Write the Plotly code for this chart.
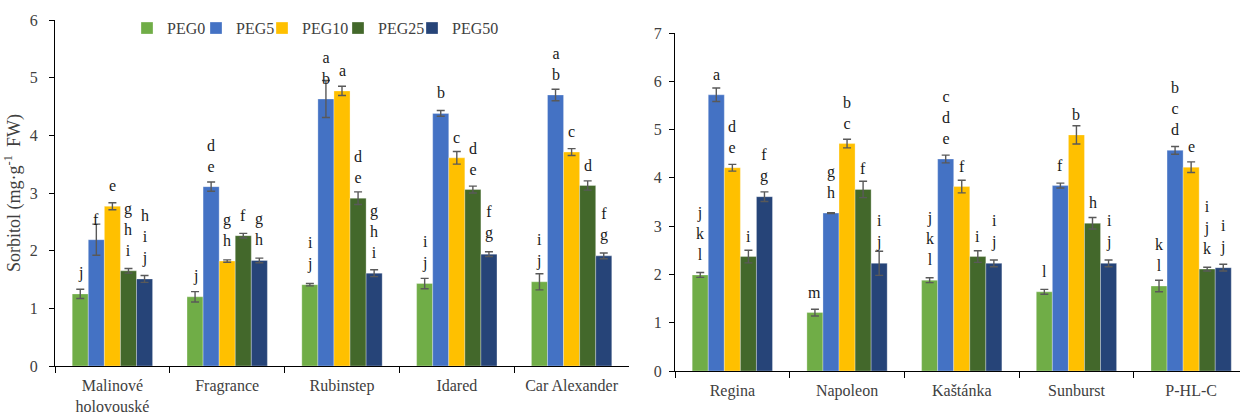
import plotly.graph_objects as go

# Treatments and their bar colours
treatments = ["PEG0", "PEG5", "PEG10", "PEG25", "PEG50"]
colors = ["#70AD47", "#4472C4", "#FFC000", "#43682B", "#264478"]
# left edge of each legend entry, in pixels across the figure
legend_left_px = [127, 196, 262, 338, 412]

# Left panel: apple cultivars
apple_cultivars = ["Malinové<br>holovouské", "Fragrance", "Rubinstep", "Idared", "Car Alexander"]
apple_peg0 = [1.25, 1.20, 1.41, 1.43, 1.46]
apple_peg5 = [2.19, 3.11, 4.63, 4.38, 4.70]
apple_peg10 = [2.77, 1.82, 4.77, 3.61, 3.71]
apple_peg25 = [1.65, 2.26, 2.91, 3.06, 3.13]
apple_peg50 = [1.51, 1.83, 1.61, 1.94, 1.91]
apple_err_peg0 = [0.08, 0.09, 0.02, 0.09, 0.14]
apple_err_peg5 = [0.27, 0.08, 0.32, 0.05, 0.10]
apple_err_peg10 = [0.06, 0.02, 0.08, 0.11, 0.06]
apple_err_peg25 = [0.04, 0.04, 0.11, 0.06, 0.08]
apple_err_peg50 = [0.06, 0.04, 0.06, 0.04, 0.05]
apple_sig_peg0 = ["j", "j", "i<br>j", "i<br>j", "i<br>j"]
apple_sig_peg5 = ["f", "d<br>e", "a<br>b", "b", "a<br>b"]
apple_sig_peg10 = ["e", "g<br>h", "a", "c", "c"]
apple_sig_peg25 = ["g<br>h<br>i", "f", "d<br>e", "d<br>e", "d"]
apple_sig_peg50 = ["h<br>i<br>j", "g<br>h", "g<br>h<br>i", "f<br>g", "f<br>g"]

# Right panel: cherry cultivars
cherry_cultivars = ["Regina", "Napoleon", "Kaštánka", "Sunburst", "P-HL-C"]
cherry_peg0 = [1.99, 1.21, 1.88, 1.64, 1.76]
cherry_peg5 = [5.72, 3.27, 4.39, 3.84, 4.57]
cherry_peg10 = [4.21, 4.71, 3.82, 4.89, 4.22]
cherry_peg25 = [2.37, 3.76, 2.37, 3.06, 2.11]
cherry_peg50 = [3.61, 2.23, 2.23, 2.23, 2.14]
cherry_err_peg0 = [0.05, 0.07, 0.05, 0.05, 0.12]
cherry_err_peg5 = [0.14, 0.01, 0.08, 0.05, 0.08]
cherry_err_peg10 = [0.07, 0.09, 0.13, 0.19, 0.11]
cherry_err_peg25 = [0.13, 0.17, 0.12, 0.12, 0.04]
cherry_err_peg50 = [0.10, 0.25, 0.07, 0.07, 0.07]
cherry_sig_peg0 = ["j<br>k<br>l", "m", "j<br>k<br>l", "l", "k<br>l"]
cherry_sig_peg5 = ["a", "g<br>h", "c<br>d<br>e", "f", "b<br>c<br>d"]
cherry_sig_peg10 = ["d<br>e", "b<br>c", "f", "b", "e"]
cherry_sig_peg25 = ["i", "f", "i", "h", "i<br>j<br>k"]
cherry_sig_peg50 = ["f<br>g", "i<br>j", "i<br>j", "i<br>j", "i<br>j"]

FONT = "Liberation Serif, Times New Roman, serif"
BARGAP = 0.3
W, H = 1240, 414

panels = [
    dict(cats=apple_cultivars, xa="x", ya="y", legend=True,
         vals=[apple_peg0, apple_peg5, apple_peg10, apple_peg25, apple_peg50],
         errs=[apple_err_peg0, apple_err_peg5, apple_err_peg10, apple_err_peg25, apple_err_peg50],
         sigs=[apple_sig_peg0, apple_sig_peg5, apple_sig_peg10, apple_sig_peg25, apple_sig_peg50]),
    dict(cats=cherry_cultivars, xa="x2", ya="y2", legend=False,
         vals=[cherry_peg0, cherry_peg5, cherry_peg10, cherry_peg25, cherry_peg50],
         errs=[cherry_err_peg0, cherry_err_peg5, cherry_err_peg10, cherry_err_peg25, cherry_err_peg50],
         sigs=[cherry_sig_peg0, cherry_sig_peg5, cherry_sig_peg10, cherry_sig_peg25, cherry_sig_peg50]),
]

legend_ids = ["legend"] + [f"legend{k}" for k in range(2, len(treatments) + 1)]

fig = go.Figure()
annotations = []
n = len(treatments)
slot = (1 - BARGAP) / n

for p in panels:
    for j, name in enumerate(treatments):
        fig.add_trace(go.Bar(
            x=p["cats"], y=p["vals"][j], name=name,
            xaxis=p["xa"], yaxis=p["ya"],
            marker=dict(color=colors[j], line=dict(color="rgba(255,255,255,0.6)", width=0.5)),
            error_y=dict(type="data", array=p["errs"][j], visible=True,
                         color="#595959", thickness=1.4, width=4),
            showlegend=p["legend"], legendgroup=name, legend=legend_ids[j],
        ))
        # significance letters stacked above each bar
        for i, (v, s) in enumerate(zip(p["vals"][j], p["sigs"][j])):
            annotations.append(dict(
                x=i + (j - (n - 1) / 2) * slot, y=v,
                xref=p["xa"], yref=p["ya"],
                text=s, showarrow=False, yanchor="bottom", xanchor="center",
                yshift=10, font=dict(family=FONT, size=16, color="#1a1a1a"),
            ))

axis_common = dict(
    showline=True, linecolor="black", linewidth=1,
    ticks="outside", tickcolor="black",
    tickfont=dict(family=FONT, size=16, color="#404040"),
    showgrid=False, zeroline=False, automargin=False,
)

legend_common = dict(
    orientation="h", y=0.973, xanchor="left", yanchor="top",
    font=dict(family=FONT, size=16, color="#404040"),
    itemwidth=30, tracegroupgap=0, bgcolor="rgba(0,0,0,0)",
)
legends = {lid: dict(x=px / W, **legend_common) for lid, px in zip(legend_ids, legend_left_px)}

fig.update_layout(
    template="none",
    width=W, height=H,
    margin=dict(l=0, r=0, t=0, b=0),
    paper_bgcolor="white", plot_bgcolor="white",
    barmode="group", bargap=BARGAP, bargroupgap=0,
    font=dict(family=FONT, size=16, color="#404040"),
    xaxis=dict(domain=[55 / W, 629 / W], anchor="y", type="category",
               range=[-0.5, 4.5], tickson="boundaries", ticklen=6,
               ticklabelstandoff=5, **axis_common),
    yaxis=dict(domain=[48 / H, 394 / H], anchor="x", range=[0, 6], dtick=1,
               ticklen=5, ticklabelstandoff=8, **axis_common,
               title=dict(text="Sorbitol (mg·g<sup>-1</sup>\u2009 FW)",
                          font=dict(family=FONT, size=18, color="#404040"), standoff=4)),
    xaxis2=dict(domain=[675 / W, 1.0], anchor="y2", type="category",
                range=[-0.5, 4.426], tickson="boundaries", ticklen=6,
                ticklabelstandoff=5, **axis_common),
    yaxis2=dict(domain=[43 / H, 381 / H], anchor="x2", range=[0, 7], dtick=1,
                ticklen=5, ticklabelstandoff=4, **axis_common),
    annotations=annotations,
    **legends,
)

fig.write_html("out.html")
